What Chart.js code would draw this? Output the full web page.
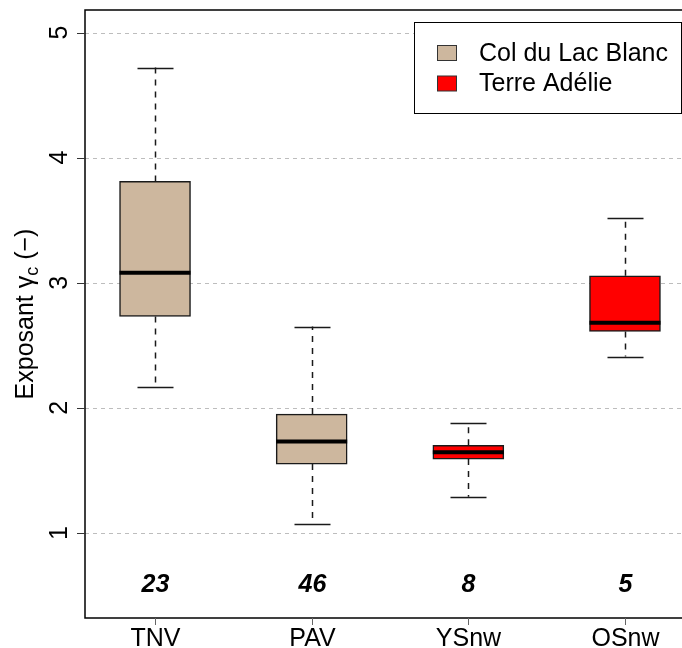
<!DOCTYPE html>
<html>
<head>
<meta charset="utf-8">
<script src="https://cdn.jsdelivr.net/npm/chart.js@4"></script>
<style>
  html, body { margin: 0; padding: 0; background: #fff; overflow: hidden; }
  #wrap { width: 682px; height: 648px; overflow: hidden; position: relative; }
  canvas { display: block; }
</style>
</head>
<body>
<div id="wrap"><canvas id="boxChart" width="720" height="648"></canvas></div>
<script>
// values
const categories = ['TNV', 'PAV', 'YSnw', 'OSnw'];
const whiskerLow = [2.17, 1.07, 1.29, 2.41];
const q1 = [2.73, 1.55, 1.59, 2.61];
const median = [3.08, 1.73, 1.645, 2.68];
const q3 = [3.81, 1.95, 1.70, 3.055];
const whiskerHigh = [4.72, 2.65, 1.88, 3.52];
const counts = [23, 46, 8, 5];
const siteOf = [0, 0, 1, 1];
const siteNames = ['Col du Lac Blanc', 'Terre Adélie'];
const siteColors = ['#CDB79E', '#FF0000'];
const yTicks = [1, 2, 3, 4, 5];

const FONT = '"Liberation Sans", Arial, Helvetica, sans-serif';

const boxExtras = {
  id: 'boxExtras',
  beforeDatasetsDraw(chart) {
    const { ctx, chartArea: a, scales: { y } } = chart;
    ctx.save();
    ctx.strokeStyle = '#bdbdbd';
    ctx.lineWidth = 1;
    ctx.setLineDash([4, 4]);
    yTicks.forEach(t => {
      const py = Math.round(y.getPixelForValue(t)) + 0.5;
      ctx.beginPath();
      ctx.moveTo(a.left, py);
      ctx.lineTo(a.right, py);
      ctx.stroke();
    });
    ctx.restore();
  },
  afterDatasetsDraw(chart) {
    const { ctx, chartArea: a, scales: { x, y } } = chart;
    const meta = chart.getDatasetMeta(0);
    ctx.save();

    // whiskers + caps
    categories.forEach((c, i) => {
      const px = Math.round(x.getPixelForValue(i + 1)) + 0.5;
      const capHalf = 18;
      ctx.strokeStyle = '#1a1a1a';
      ctx.lineWidth = 1.5;
      ctx.setLineDash([6, 6]);
      ctx.beginPath();
      ctx.moveTo(px, y.getPixelForValue(q3[i]));
      ctx.lineTo(px, y.getPixelForValue(whiskerHigh[i]));
      ctx.moveTo(px, y.getPixelForValue(q1[i]));
      ctx.lineTo(px, y.getPixelForValue(whiskerLow[i]));
      ctx.stroke();
      ctx.setLineDash([]);
      ctx.beginPath();
      [whiskerHigh[i], whiskerLow[i]].forEach(v => {
        const py = Math.round(y.getPixelForValue(v)) + 0.5;
        ctx.moveTo(px - capHalf, py);
        ctx.lineTo(px + capHalf, py);
      });
      ctx.stroke();

      // median
      const bar = meta.data[i];
      const half = bar.width / 2;
      ctx.lineWidth = 4;
      ctx.strokeStyle = '#000';
      ctx.beginPath();
      const my = y.getPixelForValue(median[i]);
      ctx.moveTo(bar.x - half, my);
      ctx.lineTo(bar.x + half, my);
      ctx.stroke();

      // sample count
      ctx.fillStyle = '#000';
      ctx.font = 'italic bold 25px ' + FONT;
      ctx.textAlign = 'center';
      ctx.textBaseline = 'alphabetic';
      ctx.fillText(String(counts[i]), px, 592);
    });

    // frame
    ctx.strokeStyle = '#000';
    ctx.lineWidth = 1.5;
    ctx.strokeRect(a.left, a.top, a.right - a.left, a.bottom - a.top);

    // y ticks + labels
    ctx.strokeStyle = '#333';
    ctx.lineWidth = 1;
    ctx.fillStyle = '#000';
    ctx.font = '25px ' + FONT;
    yTicks.forEach(t => {
      const py = Math.round(y.getPixelForValue(t)) + 0.5;
      ctx.beginPath();
      ctx.moveTo(a.left - 8, py);
      ctx.lineTo(a.left, py);
      ctx.stroke();
      ctx.save();
      ctx.translate(67, y.getPixelForValue(t));
      ctx.rotate(-Math.PI / 2);
      ctx.textAlign = 'center';
      ctx.textBaseline = 'alphabetic';
      ctx.fillText(String(t), 0, 0);
      ctx.restore();
    });

    // x ticks + labels
    categories.forEach((c, i) => {
      const px = Math.round(x.getPixelForValue(i + 1)) + 0.5;
      ctx.strokeStyle = '#666';
      ctx.beginPath();
      ctx.moveTo(px, a.bottom);
      ctx.lineTo(px, a.bottom + 7);
      ctx.stroke();
      ctx.fillStyle = '#000';
      ctx.font = '25px ' + FONT;
      ctx.textAlign = 'center';
      ctx.textBaseline = 'alphabetic';
      ctx.fillText(c, px, 646);
    });

    // y axis title: Exposant γ_c (−)
    ctx.save();
    ctx.translate(33, (a.top + a.bottom) / 2);
    ctx.rotate(-Math.PI / 2);
    const big = '25px ' + FONT, small = '18px ' + FONT;
    const p1 = 'Exposant \u03B3', p2 = 'c', p3 = ' (\u2212)';
    ctx.font = big; const w1 = ctx.measureText(p1).width; const w3 = ctx.measureText(p3).width;
    ctx.font = small; const w2 = ctx.measureText(p2).width;
    let sx = -(w1 + w2 + w3) / 2;
    ctx.textAlign = 'left';
    ctx.textBaseline = 'alphabetic';
    ctx.font = big; ctx.fillText(p1, sx, 0); sx += w1;
    ctx.font = small; ctx.fillText(p2, sx, 5); sx += w2;
    ctx.font = big; ctx.fillText(p3, sx, 0);
    ctx.restore();

    // legend
    ctx.fillStyle = '#fff';
    ctx.fillRect(414.5, 22.5, 300, 91);
    ctx.strokeStyle = '#000';
    ctx.lineWidth = 1;
    ctx.strokeRect(414.5, 22.5, 267, 91);
    siteNames.forEach((n, k) => {
      const cy = 53 + k * 30.5;
      ctx.fillStyle = siteColors[k];
      ctx.fillRect(437.5, cy - 7.5, 19, 15);
      ctx.strokeStyle = '#333';
      ctx.strokeRect(437.5, cy - 7.5, 19, 15);
      ctx.fillStyle = '#000';
      ctx.font = '25px ' + FONT;
      ctx.textAlign = 'left';
      ctx.textBaseline = 'middle';
      ctx.fillText(n, 479, cy + 1);
    });

    ctx.restore();
  }
};

new Chart(document.getElementById('boxChart'), {
  type: 'bar',
  data: {
    datasets: [{
      data: categories.map((c, i) => ({ x: i + 1, y: [q1[i], q3[i]] })),
      backgroundColor: siteOf.map(s => siteColors[s]),
      borderColor: '#1a1a1a',
      borderWidth: 1.5,
      borderSkipped: false,
      barThickness: 71
    }]
  },
  options: {
    responsive: false,
    animation: false,
    layout: { padding: { left: 85, top: 10, right: 25, bottom: 30 } },
    scales: {
      x: { type: 'linear', min: 0.553, max: 4.447, offset: false, display: false },
      y: { min: 0.32, max: 5.18, display: false }
    },
    plugins: {
      legend: { display: false },
      tooltip: { enabled: false }
    }
  },
  plugins: [boxExtras]
});
</script>
</body>
</html>
